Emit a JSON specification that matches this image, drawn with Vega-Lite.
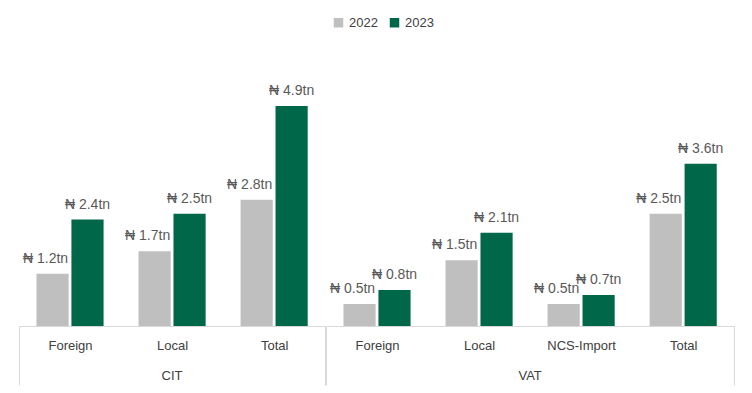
{
  "$schema": "https://vega.github.io/schema/vega-lite/v6.json",
  "padding": {"left": 18, "top": 16, "right": 5, "bottom": 0},
  "background": "white",
  "bounds": "flush",
  "data": {
    "values": [
      {"tax": "CIT", "cat": "Foreign", "year": "2022", "value": 1.16, "label": "₦ 1.2tn"},
      {"tax": "CIT", "cat": "Foreign", "year": "2023", "value": 2.36, "label": "₦ 2.4tn"},
      {"tax": "CIT", "cat": "Local", "year": "2022", "value": 1.66, "label": "₦ 1.7tn"},
      {"tax": "CIT", "cat": "Local", "year": "2023", "value": 2.49, "label": "₦ 2.5tn"},
      {"tax": "CIT", "cat": "Total", "year": "2022", "value": 2.8, "label": "₦ 2.8tn"},
      {"tax": "CIT", "cat": "Total", "year": "2023", "value": 4.88, "label": "₦ 4.9tn"},
      {"tax": "VAT", "cat": "Foreign", "year": "2022", "value": 0.49, "label": "₦ 0.5tn"},
      {"tax": "VAT", "cat": "Foreign", "year": "2023", "value": 0.8, "label": "₦ 0.8tn"},
      {"tax": "VAT", "cat": "Local", "year": "2022", "value": 1.46, "label": "₦ 1.5tn"},
      {"tax": "VAT", "cat": "Local", "year": "2023", "value": 2.07, "label": "₦ 2.1tn"},
      {"tax": "VAT", "cat": "NCS-Import", "year": "2022", "value": 0.49, "label": "₦ 0.5tn"},
      {"tax": "VAT", "cat": "NCS-Import", "year": "2023", "value": 0.69, "label": "₦ 0.7tn"},
      {"tax": "VAT", "cat": "Total", "year": "2022", "value": 2.49, "label": "₦ 2.5tn"},
      {"tax": "VAT", "cat": "Total", "year": "2023", "value": 3.6, "label": "₦ 3.6tn"}
    ]
  },
  "facet": {
    "column": {
      "field": "tax",
      "type": "nominal",
      "sort": ["CIT", "VAT"],
      "title": null,
      "header": {
        "labelOrient": "bottom",
        "labelPadding": 44,
        "labelFontSize": 13,
        "labelColor": "#404040",
        "labelFont": "Liberation Sans"
      }
    }
  },
  "spacing": 0,
  "resolve": {"scale": {"x": "independent"}},
  "spec": {
    "width": {"step": 34.95},
    "height": 248,
    "encoding": {
      "x": {
        "field": "cat",
        "type": "nominal",
        "scale": {"paddingInner": 0, "paddingOuter": 0},
        "axis": {
          "title": null,
          "labelAngle": 0,
          "domainColor": "#d9d9d9",
          "tickBand": "extent",
          "tickSize": 59,
          "tickColor": {"condition": {"test": "datum.extra || datum.value === 'Total'", "value": "#d9d9d9"}, "value": "transparent"},
          "labelPadding": -46,
          "labelFontSize": 13,
          "labelColor": "#404040",
          "labelFont": "Liberation Sans"
        }
      },
      "xOffset": {"field": "year", "type": "nominal", "scale": {"paddingInner": 0.08, "paddingOuter": 0.5}},
      "y": {"field": "value", "type": "quantitative", "scale": {"domain": [0, 5.5]}, "axis": null}
    },
    "layer": [
      {
        "mark": {"type": "bar"},
        "encoding": {
          "color": {
            "field": "year",
            "type": "nominal",
            "scale": {"domain": ["2022", "2023"], "range": ["#bfbfbf", "#006749"]},
            "legend": {
              "orient": "none",
              "legendX": 313,
              "legendY": -62,
              "direction": "horizontal",
              "title": null,
              "symbolType": "square",
              "symbolSize": 90,
              "symbolStrokeWidth": 0,
              "labelFontSize": 13,
              "labelColor": "#404040",
              "labelFont": "Liberation Sans",
              "columnPadding": 10,
              "labelOffset": 4
            }
          }
        }
      },
      {
        "transform": [{"filter": "datum.year == '2022'"}],
        "mark": {"type": "text", "dx": -7, "dy": -15, "baseline": "middle", "fontSize": 14, "color": "#595959", "font": "Liberation Sans"},
        "encoding": {"text": {"field": "label", "type": "nominal"}}
      },
      {
        "transform": [{"filter": "datum.year == '2023'"}],
        "mark": {"type": "text", "dy": -15, "baseline": "middle", "fontSize": 14, "color": "#595959", "font": "Liberation Sans"},
        "encoding": {"text": {"field": "label", "type": "nominal"}}
      }
    ]
  },
  "config": {"view": {"stroke": null}}
}
